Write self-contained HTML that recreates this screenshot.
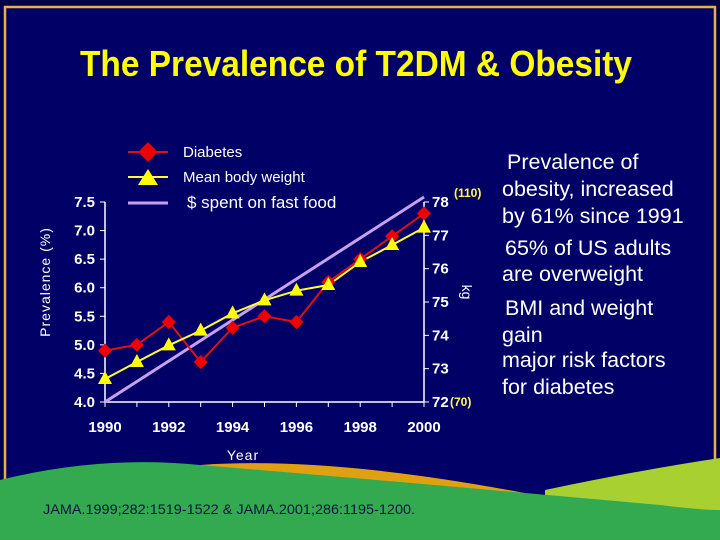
<!DOCTYPE html>
<html><head><meta charset="utf-8"><style>
html,body{margin:0;padding:0;background:#000050;}
svg{display:block;font-family:"Liberation Sans",sans-serif;}
</style></head><body>
<svg id="chart" width="720" height="540" viewBox="0 0 720 540">
<rect x="0" y="0" width="720" height="540" fill="#00004a"/>
<rect x="5" y="7" width="710" height="560" fill="#000066" stroke="#e8b040" stroke-width="2.5"/>
<text x="356" y="76" text-anchor="middle" font-size="36" font-weight="bold" fill="#ffff00" textLength="552" lengthAdjust="spacingAndGlyphs">The Prevalence of T2DM &amp; Obesity</text>
<g>
<path d="M545,490 Q640,470 720,458 L720,540 L545,540 Z" fill="#a8d030"/>
<path d="M200,465 Q340,455 560,500 L660,505 L560,520 Z" fill="#e0a010"/>
<path d="M0,480 Q100,455 200,465 Q380,480 660,505 Q700,510 720,510 L720,540 L0,540 Z" fill="#33aa50"/>
</g>
<text x="43" y="514" font-size="14" fill="#0a1440" textLength="372" lengthAdjust="spacingAndGlyphs">JAMA.1999;282:1519-1522 &amp; JAMA.2001;286:1195-1200.</text>
<g id="plot"></g>
<g>
<line x1="128" y1="152" x2="168" y2="152" stroke="#dd1111" stroke-width="2"/>
<rect x="141" y="145" width="14" height="14" transform="rotate(45 148 152)" fill="#ee0000"/>
<text x="183" y="157" font-size="15" fill="#fff">Diabetes</text>
<line x1="128" y1="177" x2="168" y2="177" stroke="#ffff33" stroke-width="2"/>
<polygon points="148,169 158,185 138,185" fill="#ffff00"/>
<text x="183" y="182" font-size="15" fill="#fff">Mean body weight</text>
<line x1="128" y1="203" x2="168" y2="203" stroke="#c8a0f0" stroke-width="3"/>
<text x="187" y="208" font-size="17" fill="#fff">$ spent on fast food</text>
</g>
<g fill="#fff" font-size="21.5">
<text x="507" y="169">Prevalence of</text>
<text x="502" y="196">obesity, increased</text>
<text x="502" y="223">by 61% since 1991</text>
<text x="505" y="255">65% of US adults</text>
<text x="502" y="281">are overweight</text>
<text x="505" y="315">BMI and weight</text>
<text x="502" y="342">gain</text>
<text x="502" y="367">major risk factors</text>
<text x="502" y="394">for diabetes</text>
</g>
</svg>
<script>
const years = [1990,1991,1992,1993,1994,1995,1996,1997,1998,1999,2000];
const diabetes = [4.9,5.0,5.4,4.7,5.3,5.5,5.4,6.1,6.5,6.9,7.3];
const weightKg = [72.69,73.2,73.7,74.14,74.66,75.05,75.34,75.51,76.2,76.71,77.23];
const fastFoodYears = [1990,2000];
const fastFood = [70,111];
const leftTicks = [4.0,4.5,5.0,5.5,6.0,6.5,7.0,7.5];
const rightTicks = [72,73,74,75,76,77,78];
const xTicks = [1990,1992,1994,1996,1998,2000];

const NS='http://www.w3.org/2000/svg';
const g=document.getElementById('plot');
const X0=105,X1=424,YT=202,YB=402;
const x=v=>X0+(v-1990)/10*(X1-X0);
const yL=v=>YB-(v-4)/3.5*(YB-YT);
const yR=v=>YB-(v-72)/6*(YB-YT);
const yF=v=>YB-(v-70)/40*(YB-YT);
function mk(t,a){const e=document.createElementNS(NS,t);for(const k in a)e.setAttribute(k,a[k]);g.appendChild(e);return e;}

let e=mk('line',{x1:X0,y1:YT,x2:X0,y2:YB,stroke:'#fff','stroke-width':1.5});


e=mk('line',{x1:X0,y1:YB,x2:X1,y2:YB,stroke:'#fff','stroke-width':1.5});


e=mk('line',{x1:X1,y1:YT,x2:X1,y2:YB,stroke:'#fff','stroke-width':1.5});



leftTicks.forEach(v=>{
  mk('line',{x1:X0-5,y1:yL(v),x2:X0,y2:yL(v),stroke:'#fff'});
  const t=mk('text',{x:X0-10,y:yL(v)+5,'text-anchor':'end','font-size':15,'font-weight':'bold',fill:'#fff'});
  t.textContent=v.toFixed(1);
  
  
});
rightTicks.forEach(v=>{
  mk('line',{x1:X1,y1:yR(v),x2:X1+5,y2:yR(v),stroke:'#fff'});
  const t=mk('text',{x:X1+8,y:yR(v)+5,'font-size':15,'font-weight':'bold',fill:'#fff'});
  t.textContent=v;
  
  
});
years.forEach(v=>{mk('line',{x1:x(v),y1:YB,x2:x(v),y2:YB+5,stroke:'#fff'});});
xTicks.forEach(v=>{
  const t=mk('text',{x:x(v),y:YB+30,'text-anchor':'middle','font-size':15,'font-weight':'bold',fill:'#fff'});
  t.textContent=v;
  
  
});
let t=mk('text',{x:454,y:197,'font-size':12,'font-weight':'bold',fill:'#ffff44'});t.textContent='(110)';


t=mk('text',{x:450,y:406,'font-size':12,'font-weight':'bold',fill:'#ffff44'});t.textContent='(70)';


t=mk('text',{x:0,y:0,'font-size':14,fill:'#fff',transform:'translate(50,282) rotate(-90)','text-anchor':'middle','letter-spacing':'1'});t.textContent='Prevalence (%)';


t=mk('text',{x:0,y:0,'font-size':14,fill:'#fff',transform:'translate(462,292) rotate(90)','text-anchor':'middle'});t.textContent='kg';


t=mk('text',{x:243,y:460,'font-size':14,fill:'#fff','text-anchor':'middle','letter-spacing':'1'});t.textContent='Year';



e=mk('polyline',{points:fastFoodYears.map((v,i)=>x(v)+','+yF(fastFood[i])).join(' '),fill:'none',stroke:'#c8a0f0','stroke-width':3});


e=mk('polyline',{points:years.map((v,i)=>x(v)+','+yL(diabetes[i])).join(' '),fill:'none',stroke:'#dd1111','stroke-width':2});


e=mk('polyline',{points:years.map((v,i)=>x(v)+','+yR(weightKg[i])).join(' '),fill:'none',stroke:'#ffff33','stroke-width':2});


years.forEach((v,i)=>{
  const cx=x(v),cy=yL(diabetes[i]);
  const d=mk('rect',{x:cx-5,y:cy-5,width:10,height:10,fill:'#ee0000',transform:`rotate(45 ${cx} ${cy})`});
  
  
});
years.forEach((v,i)=>{
  const cx=x(v),cy=yR(weightKg[i]);
  const p=mk('polygon',{points:`${cx},${cy-8} ${cx+7},${cy+5} ${cx-7},${cy+5}`,fill:'#ffff00'});
  
  
});
</script>
</body></html>
